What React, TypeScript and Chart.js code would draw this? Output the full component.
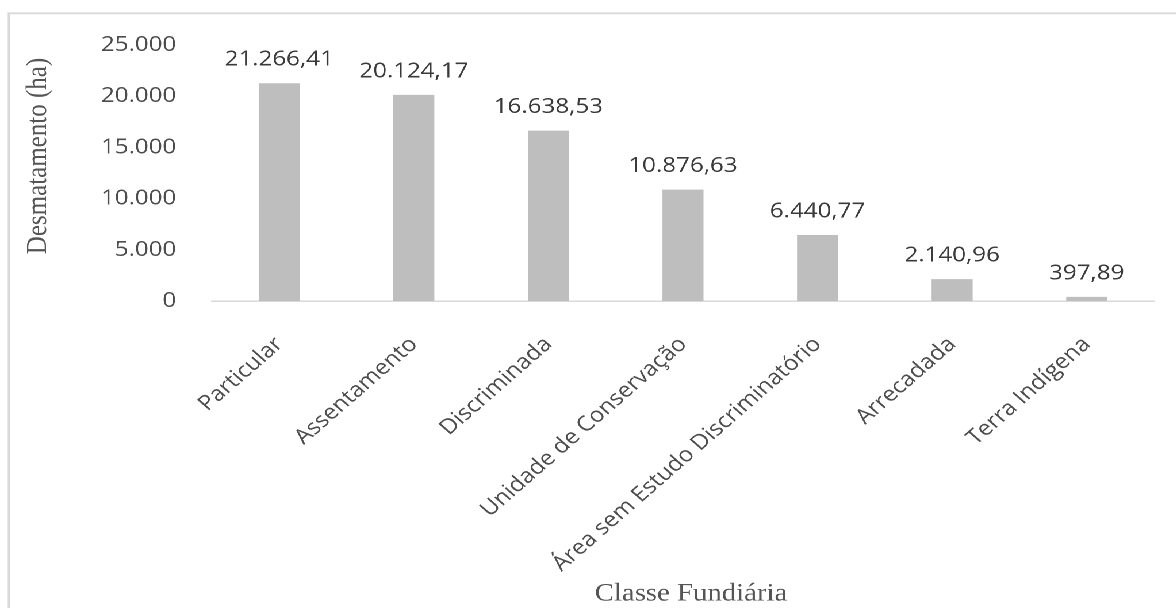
import React, { useEffect, useRef } from 'react';
import { Chart, registerables } from 'chart.js';

Chart.register(...registerables);

// ---- data ----
const categories = [
  'Particular',
  'Assentamento',
  'Discriminada',
  'Unidade de Conservação',
  'Área sem Estudo Discriminatório',
  'Arrecadada',
  'Terra Indígena',
];
const values = [21266.41, 20124.17, 16638.53, 10876.63, 6440.77, 2140.96, 397.89];
const yMin = 0;
const yMax = 25000;
const yStep = 5000;
const yTitle = 'Desmatamento (ha)';
const xTitle = 'Classe Fundiária';

// ---- layout ----
const STRETCH = 1.15;
const PAGE_W = 1176;
const H = 608;
const W = Math.round(PAGE_W / STRETCH);

const SANS = "'Open Sans', 'Noto Sans', sans-serif";
const SERIF = "'Liberation Serif', 'DejaVu Serif', serif";

function fmtThousands(n: number): string {
  return Math.round(n).toString().replace(/\B(?=(\d{3})+(?!\d))/g, '.');
}
function fmtValue(n: number): string {
  const [i, d] = n.toFixed(2).split('.');
  return fmtThousands(Number(i)) + ',' + d;
}

const framePlugin = {
  id: 'frame',
  beforeDraw(chart: any) {
    const ctx = chart.ctx;
    ctx.save();
    ctx.fillStyle = '#ffffff';
    ctx.fillRect(0, 0, chart.width, chart.height);
    ctx.strokeStyle = '#D9D9D9';
    ctx.lineWidth = 1.8;
    ctx.strokeRect(7.6, 13.3, chart.width + 20, chart.height + 20);
    ctx.restore();
  },
};

const labelsPlugin = {
  id: 'valueLabels',
  afterDatasetsDraw(chart: any) {
    const ctx = chart.ctx;
    const meta = chart.getDatasetMeta(0);
    ctx.save();
    ctx.font = `21px ${SANS}`;
    ctx.fillStyle = '#3a3a3a';
    ctx.textAlign = 'center';
    ctx.textBaseline = 'alphabetic';
    meta.data.forEach((bar: any, i: number) => {
      const { x, y } = bar.getProps(['x', 'y'], true);
      ctx.fillText(fmtValue(values[i]), x, y - 17.5);
    });
    ctx.restore();
  },
};

const titlesPlugin = {
  id: 'axisTitles',
  afterDraw(chart: any) {
    const ctx = chart.ctx;
    ctx.save();
    ctx.font = `25px ${SERIF}`;
    ctx.fillStyle = '#555555';
    ctx.textAlign = 'center';
    // y title
    ctx.save();
    ctx.translate(33.3, 156);
    ctx.rotate(-Math.PI / 2);
    ctx.textBaseline = 'middle';
    ctx.fillText(yTitle, 0, 0);
    ctx.restore();
    // x title
    ctx.textBaseline = 'alphabetic';
    ctx.fillText(xTitle, 600.9, 600.5);
    ctx.restore();
  },
};

export default function App() {
  const ref = useRef<HTMLCanvasElement | null>(null);

  useEffect(() => {
    if (!ref.current) return;
    const chart = new Chart(ref.current, {
      type: 'bar',
      data: {
        labels: categories,
        datasets: [
          {
            data: values,
            backgroundColor: '#BEBEBE',
            borderWidth: 0,
            barPercentage: 0.305,
            categoryPercentage: 1,
          },
        ],
      },
      options: {
        animation: false,
        responsive: false,
        devicePixelRatio: 2,
        layout: { padding: { top: 45, left: 0, right: 19.5, bottom: 0 } },
        plugins: {
          legend: { display: false },
          tooltip: { enabled: false },
          title: { display: false },
        },
        scales: {
          x: {
            grid: { display: false },
            border: { display: true, color: '#D9D9D9', width: 1.5 },
            ticks: {
              autoSkip: false,
              minRotation: 45,
              maxRotation: 45,
              padding: 23,
              color: '#4d4d4d',
              font: { family: SANS, size: 21 },
            },
            afterFit: (scale: any) => {
              scale.height = H - 301;
            },
          },
          y: {
            min: yMin,
            max: yMax,
            grid: { display: false },
            border: { display: false },
            ticks: {
              stepSize: yStep,
              padding: 23,
              color: '#4d4d4d',
              font: { family: SANS, size: 21 },
              callback: (v: any) => fmtThousands(Number(v)),
            },
            afterFit: (scale: any) => {
              scale.width = 184.3;
            },
          },
        },
      },
      plugins: [framePlugin, labelsPlugin, titlesPlugin],
    });
    return () => chart.destroy();
  }, []);

  return (
    <div
      style={{
        position: 'fixed',
        left: 0,
        top: 0,
        width: W,
        height: H,
        transform: `scaleX(${STRETCH})`,
        transformOrigin: '0 0',
        background: '#ffffff',
        overflow: 'hidden',
      }}
    >
      <canvas ref={ref} width={W} height={H} style={{ width: W, height: H, display: 'block' }} />
    </div>
  );
}
